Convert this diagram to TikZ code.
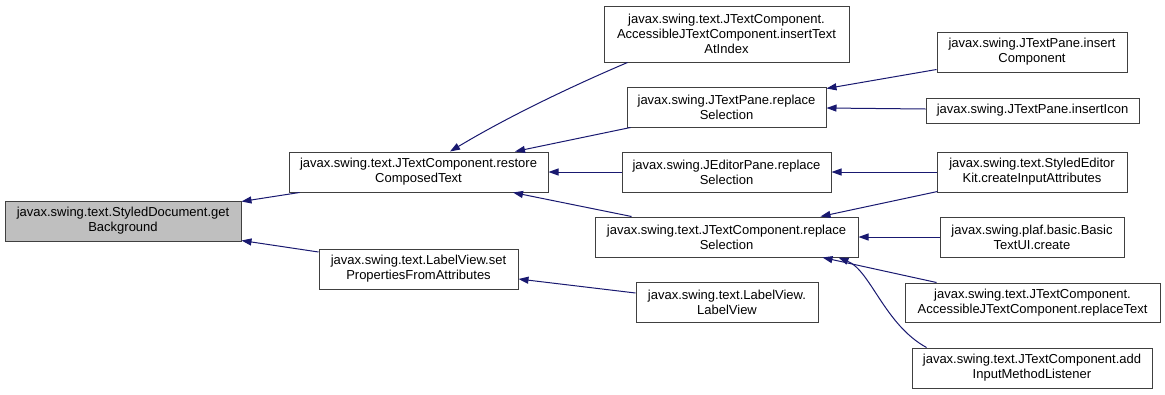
\documentclass[tikz,border=0pt]{standalone}
\usepackage{fontspec}
\setmainfont{Liberation Sans}
\usetikzlibrary{arrows.meta,calc}
\definecolor{boxline}{RGB}{64,64,64}
\definecolor{boxgray}{RGB}{191,191,191}
\definecolor{edgeblue}{RGB}{25,25,112}
\begin{document}
\begin{tikzpicture}[x=1pt,y=-1pt,
  fn/.style={draw=boxline,line width=1pt,fill=white,inner sep=0pt,align=center,
    font=\fontsize{13}{15}\selectfont,minimum height=40pt},
  focus/.style={fn,fill=boxgray},
  edge/.style={draw=edgeblue,line width=1pt,-{Triangle[length=10pt,width=7pt]}}]
\useasboundingbox (0,0) rectangle (1165,394);

% functions
\node[focus,minimum width=236pt] (sd) at (123,221) {javax.swing.text.StyledDocument.get\\Background};
\node[fn,minimum width=259pt] (restore) at (418.5,172) {javax.swing.text.JTextComponent.restore\\ComposedText};
\node[fn,minimum width=199pt] (lvset) at (418.5,269) {javax.swing.text.LabelView.set\\PropertiesFromAttributes};
\node[fn,minimum width=245pt,minimum height=56pt] (insat) at (726.5,34) {javax.swing.text.JTextComponent.\\AccessibleJTextComponent.insertText\\AtIndex};
\node[fn,minimum width=199pt] (tpreplace) at (726.5,107) {javax.swing.JTextPane.replace\\Selection};
\node[fn,minimum width=209pt] (epreplace) at (726.5,172) {javax.swing.JEditorPane.replace\\Selection};
\node[fn,minimum width=263pt] (tcreplace) at (726.5,237) {javax.swing.text.JTextComponent.replace\\Selection};
\node[fn,minimum width=182pt] (lvlv) at (727,302) {javax.swing.text.LabelView.\\LabelView};
\node[fn,minimum width=190pt] (inscomp) at (1032,52) {javax.swing.JTextPane.insert\\Component};
\node[fn,minimum width=213pt,minimum height=25pt] (insicon) at (1032.5,110.5) {javax.swing.JTextPane.insertIcon};
\node[fn,minimum width=190pt] (sekit) at (1032,172) {javax.swing.text.StyledEditor\\Kit.createInputAttributes};
\node[fn,minimum width=184pt] (basicui) at (1032,237) {javax.swing.plaf.basic.Basic\\TextUI.create};
\node[fn,minimum width=255pt,minimum height=39pt] (replacetext) at (1032.5,302.5) {javax.swing.text.JTextComponent.\\AccessibleJTextComponent.replaceText};
\node[fn,minimum width=240pt] (addiml) at (1032,368) {javax.swing.text.JTextComponent.add\\InputMethodListener};

% calls
\draw[edge] ($(restore.south west)+(11,0)$) -- ($(sd.north east)+(0,1)$);
\draw[edge] ($(lvset.west)+(0,-17)$) -- ($(sd.south east)+(0,-1)$);
\draw[edge] ($(insat.south west)+(24,0)$) .. controls ($(insat.south west)+(-9,14)$) and ($(restore.north)+(101.5,-42)$) .. ($(restore.north)+(31.5,0)$);
\draw[edge] ($(tpreplace.south west)+(4,0)$) -- ($(restore.north)+(96.5,0)$);
\draw[edge] (epreplace.west) -- (restore.east);
\draw[edge] ($(tcreplace.north west)+(37,0)$) -- ($(restore.south)+(94.5,0)$);
\draw[edge] ($(lvlv.west)+(0,-9)$) -- ($(lvset.east)+(0,10)$);
\draw[edge] ($(inscomp.south west)+(0,-3)$) -- ($(tpreplace.north east)+(0,2)$);
\draw[edge] ($(insicon.west)+(0,-1.5)$) -- ($(tpreplace.east)+(0,1)$);
\draw[edge] (sekit.west) -- (epreplace.east);
\draw[edge] ($(sekit.south west)+(1,-1)$) -- ($(tcreplace.north east)+(-38,0)$);
\draw[edge] (basicui.west) -- (tcreplace.east);
\draw[edge] ($(replacetext.north west)+(32,0)$) -- ($(tcreplace.south east)+(-36,0)$);
\draw[edge] ($(addiml.north west)+(15,0)$) .. controls ($(addiml.north west)+(-27,-23)$) and ($(tcreplace.south east)+(12,13)$) .. ($(tcreplace.south east)+(-20,0)$);
\end{tikzpicture}
\end{document}
